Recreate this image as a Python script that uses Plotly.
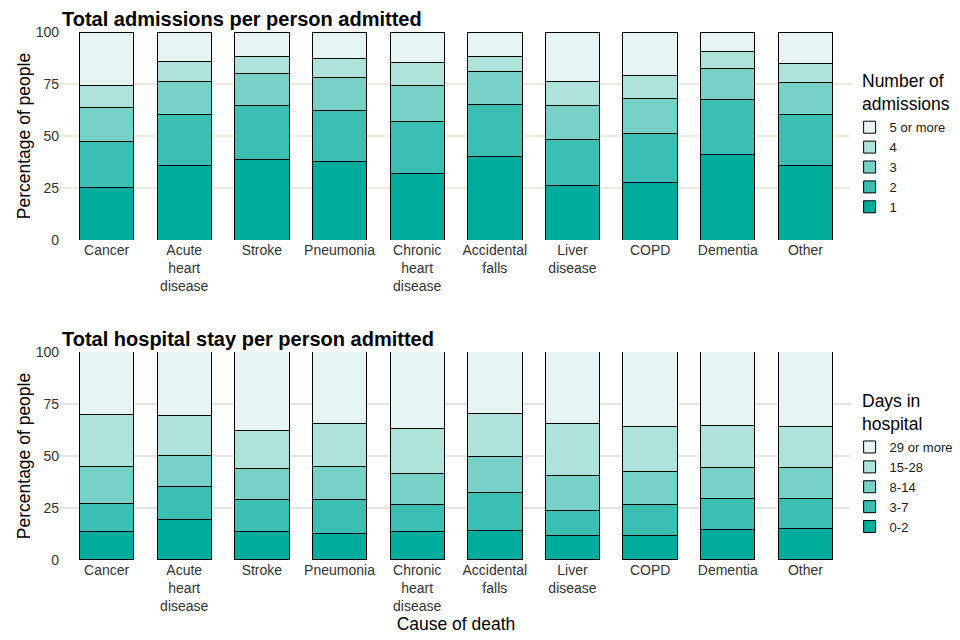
import plotly.graph_objects as go
from plotly.subplots import make_subplots

causes = ["Cancer", "Acute<br>heart<br>disease", "Stroke", "Pneumonia", "Chronic<br>heart<br>disease",
          "Accidental<br>falls", "Liver<br>disease", "COPD", "Dementia", "Other"]

# Top chart: number of admissions (percent of people), segments bottom->top
adm_labels = ["1", "2", "3", "4", "5 or more"]
adm_1 = [25.1, 35.9, 38.6, 37.7, 31.9, 40.3, 26.1, 27.5, 41.1, 35.7]
adm_2 = [22.2, 24.5, 26.1, 24.6, 25.1, 24.9, 22.2, 23.7, 26.5, 24.7]
adm_3 = [16.5, 15.9, 15.5, 16.0, 17.4, 15.6, 16.4, 16.9, 15.0, 15.4]
adm_4 = [10.6, 9.7, 8.2, 9.1, 10.8, 7.6, 11.6, 11.1, 8.2, 9.2]
adm_5 = [25.6, 14.0, 11.6, 12.6, 14.8, 11.6, 23.7, 20.8, 9.2, 15.0]

# Bottom chart: days in hospital (percent of people)
stay_labels = ["0-2", "3-7", "8-14", "15-28", "29 or more"]
stay_0_2 = [13.5, 19.3, 13.5, 12.6, 13.5, 14.0, 11.6, 11.6, 14.5, 15.0]
stay_3_7 = [13.6, 16.0, 15.5, 16.4, 13.1, 18.4, 12.1, 15.0, 15.0, 14.5]
stay_8_14 = [17.8, 14.9, 15.0, 15.9, 14.9, 17.4, 16.9, 15.9, 14.9, 14.9]
stay_15_28 = [25.1, 19.4, 18.3, 20.8, 21.8, 20.7, 25.1, 21.8, 20.3, 19.9]
stay_29 = [30.0, 30.4, 37.7, 34.3, 36.7, 29.5, 34.3, 35.7, 35.3, 35.7]

colors = ["#00AC9B", "#3BBFB3", "#77D1C6", "#AEE3DC", "#E6F4F3"]

fig = make_subplots(rows=2, cols=1, vertical_spacing=0.212)

for lab, vals, col in zip(adm_labels, [adm_1, adm_2, adm_3, adm_4, adm_5], colors):
    fig.add_trace(go.Bar(x=causes, y=vals, name=lab, marker=dict(color=col, line=dict(color="black", width=1)),
                         legend="legend"), row=1, col=1)

for lab, vals, col in zip(stay_labels, [stay_0_2, stay_3_7, stay_8_14, stay_15_28, stay_29], colors):
    fig.add_trace(go.Bar(x=causes, y=vals, name=lab, marker=dict(color=col, line=dict(color="black", width=1)),
                         legend="legend2"), row=2, col=1)

font_family = "Liberation Sans, Arial, sans-serif"

fig.update_layout(
    width=952, height=632,
    barmode="stack", bargap=0.3,
    plot_bgcolor="white", paper_bgcolor="white",
    margin=dict(l=52, r=108, t=24, b=80, autoexpand=False),
    font=dict(family=font_family, size=14, color="#1a1a1a"),
    legend=dict(traceorder="reversed", x=0.997, xanchor="left", y=0.848, yanchor="top",
                font=dict(size=13, color="#1a1a1a"), tracegroupgap=0, itemwidth=30),
    legend2=dict(traceorder="reversed", x=0.997, xanchor="left", y=0.2424, yanchor="top",
                 font=dict(size=13, color="#1a1a1a"), tracegroupgap=0, itemwidth=30),
    showlegend=True,
)

fig.update_layout(
    yaxis=dict(domain=[0.606, 1.0]),
    yaxis2=dict(domain=[0.0, 0.394]),
)

for r, gcol in [(1, "#EBEBE0"), (2, "#E5E5E5")]:
    fig.update_yaxes(row=r, col=1, range=[0, 100], tickvals=[0, 25, 50, 75, 100],
                     showgrid=True, gridcolor=gcol, gridwidth=1.5, zeroline=False, automargin=False,
                     title=dict(text="Percentage of people", font=dict(size=17.5, color="black"), standoff=0),
                     tickfont=dict(size=14, color="#333333"), ticks="", showline=False)
    fig.update_xaxes(row=r, col=1, range=[-0.6, 9.6], showgrid=False, ticks="", automargin=False,
                     tickfont=dict(size=14, color="#333333"), showline=False)

fig.update_xaxes(row=2, col=1, title=dict(text="Cause of death", font=dict(size=17.5, color="black"), standoff=2))

# Chart titles
fig.add_annotation(text="<b>Total admissions per person admitted</b>", xref="paper", yref="paper",
                   x=0, y=1.0, xanchor="left", yanchor="bottom", showarrow=False,
                   font=dict(size=20, color="black"))
fig.add_annotation(text="<b>Total hospital stay per person admitted</b>", xref="paper", yref="paper",
                   x=0, y=0.394, xanchor="left", yanchor="bottom", showarrow=False,
                   font=dict(size=20, color="black"))

# Legend titles
fig.add_annotation(text="Number of<br>admissions", xref="paper", yref="paper",
                   x=1.0105, y=0.93, xanchor="left", yanchor="top", align="left", showarrow=False,
                   font=dict(size=17.5, color="black"))
fig.add_annotation(text="Days in<br>hospital", xref="paper", yref="paper",
                   x=1.0105, y=0.324, xanchor="left", yanchor="top", align="left", showarrow=False,
                   font=dict(size=17.5, color="black"))

fig.write_html("out.html")
